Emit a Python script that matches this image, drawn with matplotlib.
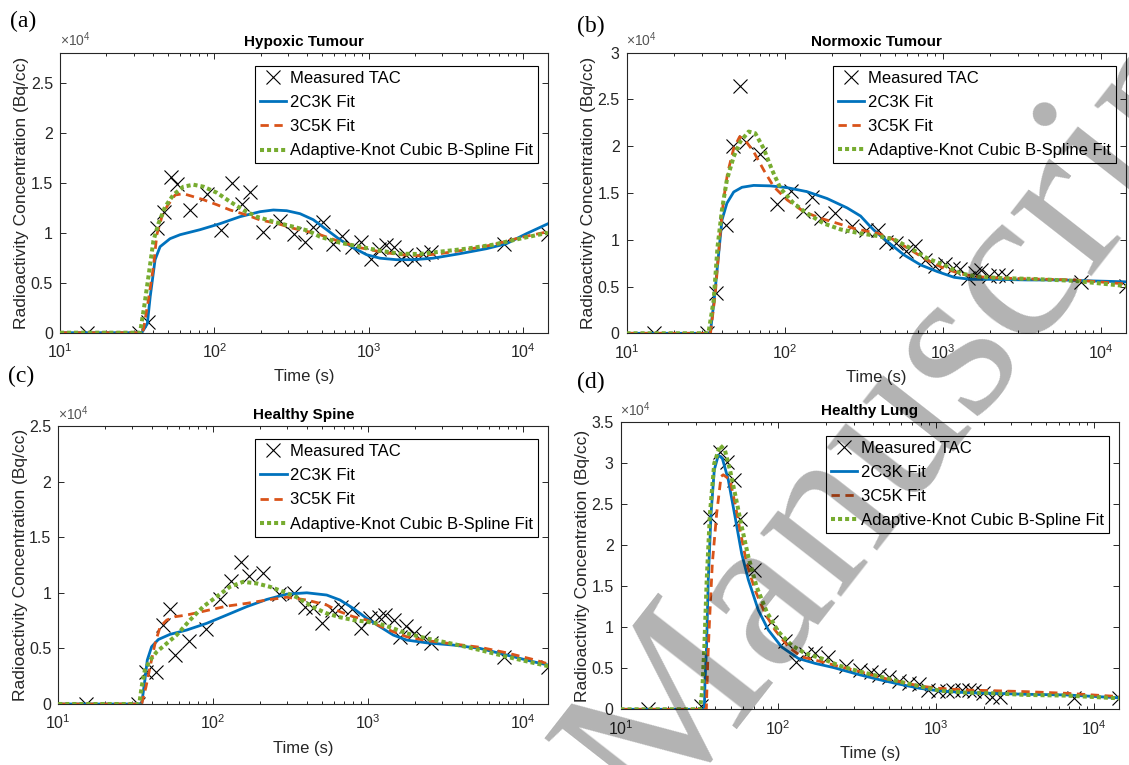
import matplotlib
matplotlib.use("Agg")
import matplotlib.pyplot as plt
from matplotlib.ticker import FixedLocator, FuncFormatter, LogLocator, NullFormatter

plt.rcParams['font.family'] = ['Liberation Sans', 'DejaVu Sans']
plt.rcParams['mathtext.fontset'] = 'custom'
plt.rcParams['mathtext.rm'] = 'Liberation Sans'
plt.rcParams['mathtext.it'] = 'Liberation Sans:italic'

#--Frame mid-times (s), same for every region--#
t_frames = [15, 32.5, 37, 42.5, 47.5, 52.5, 57, 70, 90, 110, 130, 150, 170, 208,
            267, 330, 388, 437, 505, 585, 670, 780, 895, 1030, 1170, 1285, 1455,
            1610, 1750, 1970, 2250, 2530, 7500, 14500]

#--Measured TACs (x10^4 Bq/cc)--#
hyp_tac = [0, 0, 0.11, 1.05, 1.21, 1.56, 1.49, 1.23, 1.39, 1.03, 1.50, 1.29, 1.41, 1.01,
           1.12, 0.99, 0.91, 1.06, 1.11, 0.89, 0.97, 0.86, 0.91, 0.74, 0.84, 0.88, 0.86,
           0.74, 0.78, 0.74, 0.79, 0.81, 0.89, 0.99]
norm_tac = [0, 0, 0.43, 1.16, 2.00, 2.64, 2.04, 1.92, 1.38, 1.52, 1.31, 1.46, 1.23, 1.29,
            1.15, 1.10, 1.10, 0.98, 0.96, 0.88, 0.93, 0.78, 0.72, 0.74, 0.70, 0.69, 0.59,
            0.64, 0.68, 0.61, 0.62, 0.61, 0.55, 0.51]
spine_tac = [0, 0, 0.29, 0.29, 0.71, 0.85, 0.44, 0.57, 0.67, 0.94, 1.11, 1.28, 1.15, 1.18,
             0.99, 1.00, 0.87, 0.86, 0.73, 0.845, 0.87, 0.85, 0.68, 0.77, 0.785, 0.80, 0.755,
             0.605, 0.70, 0.64, 0.59, 0.545, 0.425, 0.335]
lung_tac = [0, 0.04, 2.34, 3.14, 3.02, 2.80, 2.32, 1.70, 1.07, 0.83, 0.58, 0.68, 0.69, 0.64,
            0.53, 0.48, 0.46, 0.42, 0.39, 0.34, 0.32, 0.31, 0.235, 0.22, 0.225, 0.23, 0.23,
            0.23, 0.225, 0.195, 0.155, 0.15, 0.14, 0.14]

#--Model fits: (a) hypoxic tumour--#
hyp_2c3k_t = [10, 33.9, 36.8, 38.4, 41.3, 44.5, 51.6, 60, 80.7, 108.7, 146.5, 197.5, 241, 294,
              359, 437, 534, 651, 794, 969, 1183, 1515, 1940, 2612, 3890, 5790, 7800, 10500, 14500]
hyp_2c3k = [0, 0, 0.09, 0.36, 0.73, 0.86, 0.94, 0.98, 1.03, 1.09, 1.16, 1.21, 1.227, 1.22,
            1.19, 1.13, 1.03, 0.93, 0.85, 0.78, 0.745, 0.73, 0.73, 0.745, 0.79, 0.84, 0.89, 0.99, 1.09]
hyp_3c5k_t = [10, 33.5, 34.7, 37.4, 40.3, 42.4, 45.7, 49.2, 55.7, 63, 73.2, 84.9, 103.7, 126.6,
              162, 198, 253, 324, 405, 483, 651, 877, 1183, 1592, 2142, 2885, 4300, 6400, 9530, 14500]
hyp_3c5k = [0, 0, 0.03, 0.33, 0.66, 0.98, 1.16, 1.26, 1.377, 1.39, 1.36, 1.33, 1.28, 1.227,
            1.177, 1.127, 1.094, 1.044, 1.01, 0.98, 0.91, 0.85, 0.81, 0.78, 0.77, 0.79, 0.83, 0.88, 0.95, 1.01]
hyp_spl_t = [10, 33, 35.1, 37.4, 40.3, 43.4, 48, 54.3, 63, 73.2, 85, 103.7, 126.5, 154, 188,
             241, 324, 405, 483, 651, 877, 1183, 1592, 2142, 2885, 4300, 6400, 9530, 14500]
hyp_spl = [0, 0, 0.26, 0.56, 0.92, 1.09, 1.26, 1.38, 1.46, 1.48, 1.46, 1.40, 1.31, 1.227, 1.16,
           1.11, 1.06, 1.02, 0.96, 0.90, 0.86, 0.82, 0.79, 0.787, 0.81, 0.84, 0.88, 0.94, 1.0]

#--(b) normoxic tumour--#
norm_2c3k_t = [10, 33.9, 35.9, 38.3, 40.2, 43.2, 47.7, 53.8, 63.8, 81.5, 104, 139, 186, 249,
               303, 342, 368, 448, 571, 728, 929, 1186, 1514, 2124, 3460, 5640, 9160, 14500]
norm_2c3k = [0, 0, 0.36, 0.85, 1.21, 1.39, 1.51, 1.56, 1.58, 1.575, 1.556, 1.513, 1.44, 1.34,
             1.253, 1.157, 1.103, 0.98, 0.837, 0.73, 0.659, 0.598, 0.576, 0.576, 0.57, 0.57, 0.559, 0.55]
norm_3c5k_t = [10, 34, 36.5, 39.2, 41.1, 43.6, 47.7, 52, 56.5, 63.8, 73.8, 85.4, 104, 132, 169,
               216, 275, 342, 387, 493, 629, 802, 1023, 1306, 1667, 2344, 3810, 6840, 14500]
norm_3c5k = [0, 0, 0.43, 1.07, 1.42, 1.71, 1.975, 2.10, 2.06, 1.94, 1.745, 1.567, 1.425, 1.30, 1.23,
             1.175, 1.12, 1.086, 1.07, 1.0, 0.89, 0.78, 0.694, 0.634, 0.605, 0.59, 0.58, 0.57, 0.527]
norm_spl_t = [10, 33, 35.6, 37.7, 40.2, 43.2, 47.7, 52.5, 59.3, 65.3, 73.8, 83.4, 94.2, 114, 139,
              177, 226, 303, 387, 493, 629, 802, 1023, 1306, 1667, 2344, 3810, 6840, 14500]
norm_spl = [0, 0, 0.35, 0.925, 1.32, 1.64, 1.887, 2.047, 2.155, 2.137, 1.975, 1.745, 1.55, 1.39, 1.28,
            1.174, 1.11, 1.067, 1.04, 1.004, 0.908, 0.80, 0.73, 0.64, 0.605, 0.59, 0.58, 0.56, 0.505]

#--(c) healthy spine--#
spine_2c3k_t = [10, 34.5, 36.2, 37.5, 40, 44.2, 52.5, 67.3, 90.5, 122, 164, 221, 298, 401, 539,
                657, 800, 977, 1189, 1449, 1769, 2382, 3535, 5260, 7820, 11610, 14500]
spine_2c3k = [0, 0, 0.216, 0.395, 0.515, 0.58, 0.626, 0.665, 0.725, 0.80, 0.875, 0.94, 0.988, 1.0, 0.98,
              0.935, 0.86, 0.77, 0.695, 0.62, 0.575, 0.55, 0.53, 0.50, 0.44, 0.38, 0.35]
spine_3c5k_t = [10, 34.5, 36.8, 39.1, 42.1, 45.4, 50.1, 56.6, 67.3, 90.5, 122, 164, 221, 298, 401,
                539, 657, 800, 977, 1189, 1449, 1769, 2382, 3535, 5260, 7820, 11610, 14500]
spine_3c5k = [0, 0, 0.155, 0.335, 0.545, 0.695, 0.755, 0.785, 0.80, 0.84, 0.88, 0.905, 0.935, 0.96, 0.935,
              0.89, 0.83, 0.785, 0.755, 0.70, 0.65, 0.605, 0.57, 0.54, 0.51, 0.46, 0.40, 0.36]
spine_spl_t = [10, 33.3, 34.5, 36.2, 39.1, 43.2, 50.1, 58, 70.8, 86, 105, 128, 156, 191, 232, 283,
               345, 442, 539, 657, 800, 977, 1189, 1449, 1769, 2382, 3535, 5260, 7820, 11610, 14500]
spine_spl = [0, 0, 0.155, 0.305, 0.395, 0.47, 0.545, 0.62, 0.755, 0.875, 0.965, 1.054, 1.099, 1.084, 1.054, 1.01,
             0.96, 0.87, 0.815, 0.78, 0.755, 0.74, 0.72, 0.68, 0.635, 0.59, 0.54, 0.485, 0.425, 0.37, 0.34]

#--(d) healthy lung--#
lung_2c3k_t = [10, 34, 34.3, 35.1, 36, 37.5, 39.3, 41.7, 44.2, 48.2, 53.2, 58.6, 64.6, 74.7, 86.5,
               105, 134, 171, 223, 329, 440, 590, 789, 1057, 1563, 2303, 3750, 6730, 14500]
lung_2c3k = [0, 0, 0.32, 0.76, 1.58, 2.39, 2.92, 3.1, 3.06, 2.80, 2.35, 1.90, 1.58, 1.21, 0.967,
             0.76, 0.62, 0.56, 0.51, 0.42, 0.36, 0.305, 0.256, 0.224, 0.203, 0.195, 0.183, 0.175, 0.14]
lung_3c5k_t = [10, 35, 35.7, 36.6, 38.2, 40.7, 43.4, 44.8, 49.4, 53.2, 57.2, 63.1, 71.2, 82.4, 95.3,
               116, 141, 188, 246, 329, 440, 590, 789, 1057, 1563, 2303, 3750, 6730, 14500]
lung_3c5k = [0, 0, 0.56, 1.05, 1.78, 2.39, 2.84, 2.86, 2.80, 2.51, 2.185, 1.78, 1.455, 1.17, 0.967,
             0.76, 0.64, 0.58, 0.52, 0.46, 0.39, 0.336, 0.284, 0.255, 0.235, 0.227, 0.215, 0.195, 0.155]
lung_spl_t = [10, 31.9, 33, 34, 35.2, 36.9, 39.3, 42.8, 45.9, 49.4, 53.7, 58.6, 64.6, 72.9, 84.4,
              100, 121.6, 147.6, 188, 246, 329, 440, 590, 789, 1057, 1563, 2303, 3750, 6730, 14500]
lung_spl = [0, 0, 0.235, 0.76, 1.58, 2.39, 3.0, 3.22, 3.16, 2.92, 2.59, 2.23, 1.86, 1.495, 1.19,
            0.947, 0.78, 0.683, 0.62, 0.53, 0.46, 0.40, 0.336, 0.28, 0.227, 0.203, 0.195, 0.175, 0.167, 0.134]

titles = ['Hypoxic Tumour', 'Normoxic Tumour', 'Healthy Spine', 'Healthy Lung']
panel_tags = ['(a)', '(b)', '(c)', '(d)']
y_tops = [2.8, 3.0, 2.5, 3.5]
fit_names = ['2C3K Fit', '3C5K Fit', 'Adaptive-Knot Cubic B-Spline Fit']

AX_COL = '#262626'
C_BLUE, C_RED, C_GREEN = '#0072BD', '#D95319', '#77AC30'

W, H = 1129, 765
# axes boxes in pixels: left, right, top, bottom
boxes = [(60, 548, 52.7, 332.7), (626.5, 1126, 52.5, 333.3),
         (58.3, 548.3, 426, 704), (620.5, 1119.3, 422.3, 709.3)]
tag_pos = [(10, 21), (577, 26), (8, 376), (577, 382)]


def draw_panel(ax, tac, fits, ytop, title):
    ax.plot(t_frames, tac, 'x', color='k', ms=10, mew=0.8, label='Measured TAC', zorder=2)
    (t1, y1), (t2, y2), (t3, y3) = fits
    ax.plot(t1, y1, '-', color=C_BLUE, lw=2.0, label=fit_names[0], zorder=3)
    ax.plot(t2, y2, '--', color=C_RED, lw=2.0, dashes=(3.0, 2.0), label=fit_names[1], zorder=3)
    ax.plot(t3, y3, ':', color=C_GREEN, lw=2.9, dashes=(1, 0.75), dash_capstyle='butt',
            label=fit_names[2], zorder=4)

    ax.set_xscale('log')
    ax.set_xlim(10, 14500)
    ax.set_ylim(0, ytop)
    yt = [i * 0.5 for i in range(int(ytop / 0.5 + 1e-9) + 1)]
    ax.yaxis.set_major_locator(FixedLocator(yt))
    ax.yaxis.set_major_formatter(FuncFormatter(lambda v, _: f'{v:g}'))
    ax.xaxis.set_major_locator(LogLocator(base=10, numticks=10))
    ax.xaxis.set_minor_locator(LogLocator(base=10, subs=range(2, 10), numticks=20))
    ax.xaxis.set_minor_formatter(NullFormatter())
    ax.tick_params(which='both', direction='in', top=True, right=True, colors=AX_COL,
                   labelsize=11.5, width=0.7)
    ax.tick_params(which='major', length=4.5, pad=5)
    ax.tick_params(axis='x', which='major', pad=7)
    ax.tick_params(which='minor', length=2.5)
    for s in ax.spines.values():
        s.set_color(AX_COL)
        s.set_linewidth(0.8)

    ax.set_title(title, fontsize=11, fontweight='bold', pad=5, color='k')
    ax.set_xlabel('Time (s)', fontsize=12, color=AX_COL, labelpad=6)
    ax.set_ylabel('Radioactivity Concentration (Bq/cc)', fontsize=12.5, color=AX_COL, labelpad=1)
    ax.text(0.0, 1.012, r'$\times10^{4}$', transform=ax.transAxes, fontsize=10,
            color='#555555', ha='left', va='bottom')

    leg = ax.legend(loc='upper right', bbox_to_anchor=(0.979, 0.953), fontsize=12,
                    frameon=True, fancybox=False, framealpha=1, edgecolor='k',
                    borderpad=0.3, labelspacing=0.55, handlelength=1.6, handletextpad=0.2,
                    borderaxespad=0.0)
    leg.get_frame().set_linewidth(0.8)


fig = plt.figure(figsize=(W / 100, H / 100), dpi=100)

fit_sets = [
    [(hyp_2c3k_t, hyp_2c3k), (hyp_3c5k_t, hyp_3c5k), (hyp_spl_t, hyp_spl)],
    [(norm_2c3k_t, norm_2c3k), (norm_3c5k_t, norm_3c5k), (norm_spl_t, norm_spl)],
    [(spine_2c3k_t, spine_2c3k), (spine_3c5k_t, spine_3c5k), (spine_spl_t, spine_spl)],
    [(lung_2c3k_t, lung_2c3k), (lung_3c5k_t, lung_3c5k), (lung_spl_t, lung_spl)],
]
tacs = [hyp_tac, norm_tac, spine_tac, lung_tac]

for i in range(4):
    l, r, t, b = boxes[i]
    ax = fig.add_axes([l / W, 1 - b / H, (r - l) / W, (b - t) / H])
    draw_panel(ax, tacs[i], fit_sets[i], y_tops[i], titles[i])
    fig.text(tag_pos[i][0] / W, 1 - tag_pos[i][1] / H, panel_tags[i], fontsize=17,
             family='Liberation Serif', ha='left', va='center')

# diagonal watermark over the right half
fig.text(0.579, -0.082, 'Manuscript', transform=fig.transFigure, fontsize=160,
         family='Liberation Serif', color='k', alpha=0.3, rotation=52,
         rotation_mode='anchor', ha='left', va='baseline', zorder=10)

fig.savefig('out.png', dpi=100)
